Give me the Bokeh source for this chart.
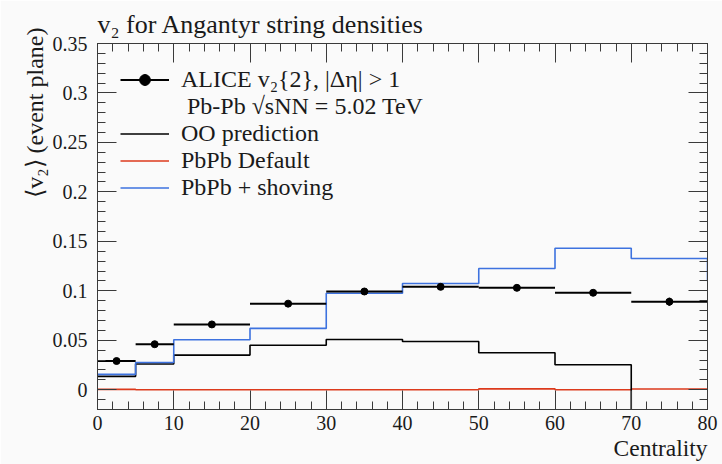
from bokeh.plotting import figure
from bokeh.models import (Range1d, LinearAxis, FixedTicker, Legend, LegendItem,
                          ColumnDataSource, Title)
from bokeh.embed import file_html
from bokeh.resources import INLINE

# ---------------- data ----------------
bin_edges = [0, 5, 10, 20, 30, 40, 50, 60, 70, 80, 90]
oo_v2 = [0.0135, 0.026, 0.035, 0.045, 0.0508, 0.0488, 0.0374, 0.0253, -0.03, -0.03]
pbpb_default_v2 = [0.0003, 0.0, 0.0, 0.0, 0.0, 0.0, 0.0009, 0.0, 0.0007, 0.0007]
pbpb_shoving_v2 = [0.0155, 0.0275, 0.0505, 0.062, 0.0975, 0.1074, 0.1226, 0.143, 0.1326, 0.110]

alice_lo = [0, 5, 10, 20, 30, 40, 50, 60, 70]
alice_hi = [5, 10, 20, 30, 40, 50, 60, 70, 80]
alice_v2 = [0.029, 0.046, 0.066, 0.087, 0.0993, 0.104, 0.103, 0.098, 0.089]
alice_err = [0.002, 0.002, 0.002, 0.002, 0.003, 0.002, 0.002, 0.002, 0.004]

x_tick_values = [0, 10, 20, 30, 40, 50, 60, 70, 80]
x_tick_labels = ["0", "10", "20", "30", "40", "50", "60", "70", "80"]
y_tick_values = [0, 0.05, 0.1, 0.15, 0.2, 0.25, 0.3, 0.35]
y_tick_labels = ["0", "0.05", "0.1", "0.15", "0.2", "0.25", "0.3", "0.35"]

title_text = "v₂ for Angantyr string densities"
y_label_text = "⟨v₂⟩ (event plane)"
x_label_text = "Centrality"
legend_labels = ["ALICE v₂{2}, |Δη| > 1", " Pb-Pb √sNN = 5.02 TeV",
                 "OO prediction", "PbPb Default", "PbPb + shoving"]

# ---------------- styling ----------------
FONT = "Liberation Serif"
TXT = "#1a1a1a"
AX = "#3a3a3a"
BG = "#fafafa"
RED = "#dc3a1c"
BLUE = "#3d72df"

p = figure(width=722, height=464, output_backend="svg", toolbar_location=None,
           title=None, x_range=Range1d(0, 80), y_range=Range1d(-0.02, 0.35),
           min_border_left=97, min_border_right=15, min_border_top=43,
           min_border_bottom=55)
p.background_fill_color = BG
p.border_fill_color = BG
p.outline_line_color = AX
p.xgrid.visible = False
p.ygrid.visible = False

x_minor = [2 * i for i in range(41)]
y_minor = [round(-0.02 + 0.01 * i, 2) for i in range(38)]
xt = FixedTicker(ticks=x_tick_values, minor_ticks=x_minor)
yt = FixedTicker(ticks=y_tick_values, minor_ticks=y_minor)


def style_axis(ax, labels=True):
    ax.axis_line_color = AX
    ax.major_tick_line_color = AX
    ax.minor_tick_line_color = AX
    ax.major_tick_in = 19
    ax.major_tick_out = 0
    ax.minor_tick_in = 8
    ax.minor_tick_out = 0
    ax.major_label_text_font = FONT
    ax.major_label_text_color = TXT
    if labels:
        ax.major_label_text_font_size = "20px"
    else:
        ax.major_label_text_font_size = "0px"
        ax.major_label_text_color = None
        ax.major_label_standoff = 0


xa = p.xaxis[0]
xa.ticker = xt
xa.major_label_overrides = dict(zip(x_tick_values, x_tick_labels))
style_axis(xa)
xa.major_label_standoff = 6

ya = p.yaxis[0]
ya.ticker = yt
ya.major_label_overrides = dict(zip(y_tick_values, y_tick_labels))
style_axis(ya)
ya.major_label_standoff = 10

ra = LinearAxis(ticker=yt)
style_axis(ra, labels=False)
p.add_layout(ra, "right")

ta = LinearAxis(ticker=xt)
style_axis(ta, labels=False)
p.add_layout(ta, "above")

# main title (top left), x label (bottom right), y label (left, top)
p.add_layout(Title(text=title_text, align="left", vertical_align="top",
                   text_font=FONT, text_font_size="26px", text_color=TXT,
                   text_font_style="normal", standoff=6), "above")
p.add_layout(Title(text=x_label_text, align="right", vertical_align="top",
                   text_font=FONT, text_font_size="23.5px", text_color=TXT,
                   text_font_style="normal", standoff=4), "below")
p.add_layout(Title(text=y_label_text, align="right", offset=-16,
                   vertical_align="top", text_font=FONT, text_font_size="24px",
                   text_color=TXT, text_font_style="normal", text_line_height=1.9,
                   standoff=0), "left")

# ---------------- histograms ----------------
def step_y(vals):
    return list(vals) + [vals[-1]]

r_red = p.step(x=bin_edges, y=step_y(pbpb_default_v2), mode="after",
               line_color=RED, line_width=1.6)
r_oo = p.step(x=bin_edges, y=step_y(oo_v2), mode="after",
              line_color="black", line_width=1.6)
r_blue = p.step(x=bin_edges, y=step_y(pbpb_shoving_v2), mode="after",
                line_color=BLUE, line_width=1.6)

# ---------------- ALICE data ----------------
xc = [(a + b) / 2 for a, b in zip(alice_lo, alice_hi)]
src = ColumnDataSource(dict(
    x=xc, lo=alice_lo, hi=alice_hi, y=alice_v2,
    ylo=[v - e for v, e in zip(alice_v2, alice_err)],
    yhi=[v + e for v, e in zip(alice_v2, alice_err)],
))
r_xerr = p.segment(x0="lo", y0="y", x1="hi", y1="y", source=src,
                   line_color="black", line_width=2)
p.segment(x0="x", y0="ylo", x1="x", y1="yhi", source=src,
          line_color="black", line_width=2)
r_cross = p.scatter(x="x", y="y", source=src, marker="cross", size=0,
                    line_color="black", line_width=2)
r_dot = p.scatter(x="x", y="y", source=src, marker="circle", size=7,
                  fill_color="black", line_color="black")
r_blank = p.line(x="x", y="y", source=src, line_alpha=0)

legend = Legend(items=[
    LegendItem(label=legend_labels[0], renderers=[r_xerr, r_cross, r_dot]),
    LegendItem(label=legend_labels[1], renderers=[r_blank]),
    LegendItem(label=legend_labels[2], renderers=[r_oo]),
    LegendItem(label=legend_labels[3], renderers=[r_red]),
    LegendItem(label=legend_labels[4], renderers=[r_blue]),
], location="top_left")
legend.border_line_alpha = 0
legend.background_fill_alpha = 0
legend.margin = 12
legend.padding = 11
legend.spacing = 0
legend.glyph_width = 49
legend.glyph_height = 27
legend.label_height = 27
legend.label_standoff = 12
legend.label_text_font = FONT
legend.label_text_font_size = "24px"
legend.label_text_color = TXT
p.add_layout(legend)

open("out.html", "w").write(file_html(p, INLINE))
